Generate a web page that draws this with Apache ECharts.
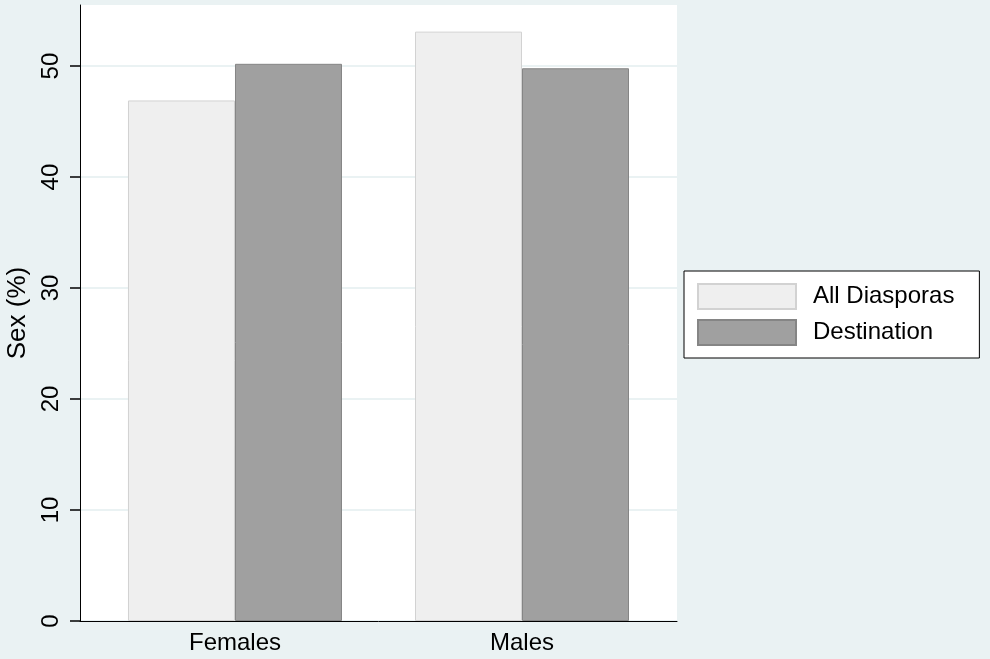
<!DOCTYPE html>
<html><head><meta charset="utf-8">
<script src="https://cdn.jsdelivr.net/npm/echarts@6/dist/echarts.min.js"></script>
<style>html,body{margin:0;padding:0;background:#EAF2F3;}#c{width:990px;height:659px;}</style>
</head><body><div id="c"></div>
<script>
const categories = ['Females', 'Males'];
const allDiasporas = [46.9, 53.1];
const destination = [50.2, 49.8];
const yTicks = [0, 10, 20, 30, 40, 50];
const seriesNames = ['All Diasporas', 'Destination'];

const font = '"Liberation Sans", Arial, sans-serif';
const yMax = 55.5;
const plotTop = 5, plotBottom = 38, plotH = 659 - plotTop - plotBottom;
const tickTop = plotTop + plotH * (1 - yTicks[yTicks.length - 1] / yMax);
const chart = echarts.init(document.getElementById('c'));
const toPts = arr => arr.map((v, i) => [i, v]);
chart.setOption({
  backgroundColor: '#EAF2F3',
  animation: false,
  grid: [
    {left: 80, right: 313, top: plotTop, bottom: plotBottom, show: true, backgroundColor: '#ffffff', borderWidth: 0,
     containLabel: false, outerBoundsMode: 'none'},
    {left: 80, right: 313, top: tickTop, bottom: plotBottom, show: false,
     containLabel: false, outerBoundsMode: 'none'}
  ],
  xAxis: [{
    type: 'value', min: -0.54, max: 1.54,
    axisLine: {show: true, onZero: false, lineStyle: {color: '#000', width: 1}},
    axisTick: {show: false},
    splitLine: {show: false},
    axisLabel: {
      customValues: categories.map((c, i) => i),
      formatter: v => categories[Math.round(v)] || '',
      fontFamily: font, fontSize: 24, color: '#000', margin: 10
    }
  }, {
    gridIndex: 1, type: 'value', show: false
  }],
  yAxis: [{
    type: 'value', min: 0, max: yMax, interval: 10,
    name: 'Sex (%)', nameLocation: 'middle', nameGap: 42, nameRotate: 90,
    nameTextStyle: {fontFamily: font, fontSize: 26, color: '#000'},
    axisLine: {show: true, onZero: false, lineStyle: {color: '#000', width: 1}},
    axisTick: {show: false},
    axisLabel: {customValues: yTicks, rotate: 90, fontFamily: font, fontSize: 24, color: '#000', margin: 17},
    splitLine: {show: false}
  }, {
    gridIndex: 1, type: 'value', min: yTicks[0], max: yTicks[yTicks.length - 1], interval: 10,
    axisLine: {show: false, onZero: false},
    axisLabel: {show: false},
    axisTick: {show: true, length: 10, lineStyle: {color: '#000', width: 1.5}},
    splitLine: {show: true, lineStyle: {color: '#EAF2F3', width: 2}}
  }],
  legend: {
    orient: 'vertical', left: 684, top: 271,
    padding: [12, 25, 12, 13],
    backgroundColor: '#fff', borderColor: '#000', borderWidth: 1,
    itemWidth: 98, itemHeight: 25, itemGap: 9,
    icon: 'rect',
    textStyle: {fontFamily: font, fontSize: 24, color: '#000', padding: [0, 0, 0, 12]},
    data: seriesNames
  },
  series: [
    {name: seriesNames[0], type: 'bar', barWidth: 107, barGap: '0%', data: toPts(allDiasporas),
     itemStyle: {color: '#EFEFEF', borderColor: '#D2D2D2', borderWidth: 1}},
    {name: seriesNames[1], type: 'bar', barWidth: 107, barGap: '0%', data: toPts(destination),
     itemStyle: {color: '#A0A0A0', borderColor: '#858585', borderWidth: 1}}
  ]
});
</script></body></html>
